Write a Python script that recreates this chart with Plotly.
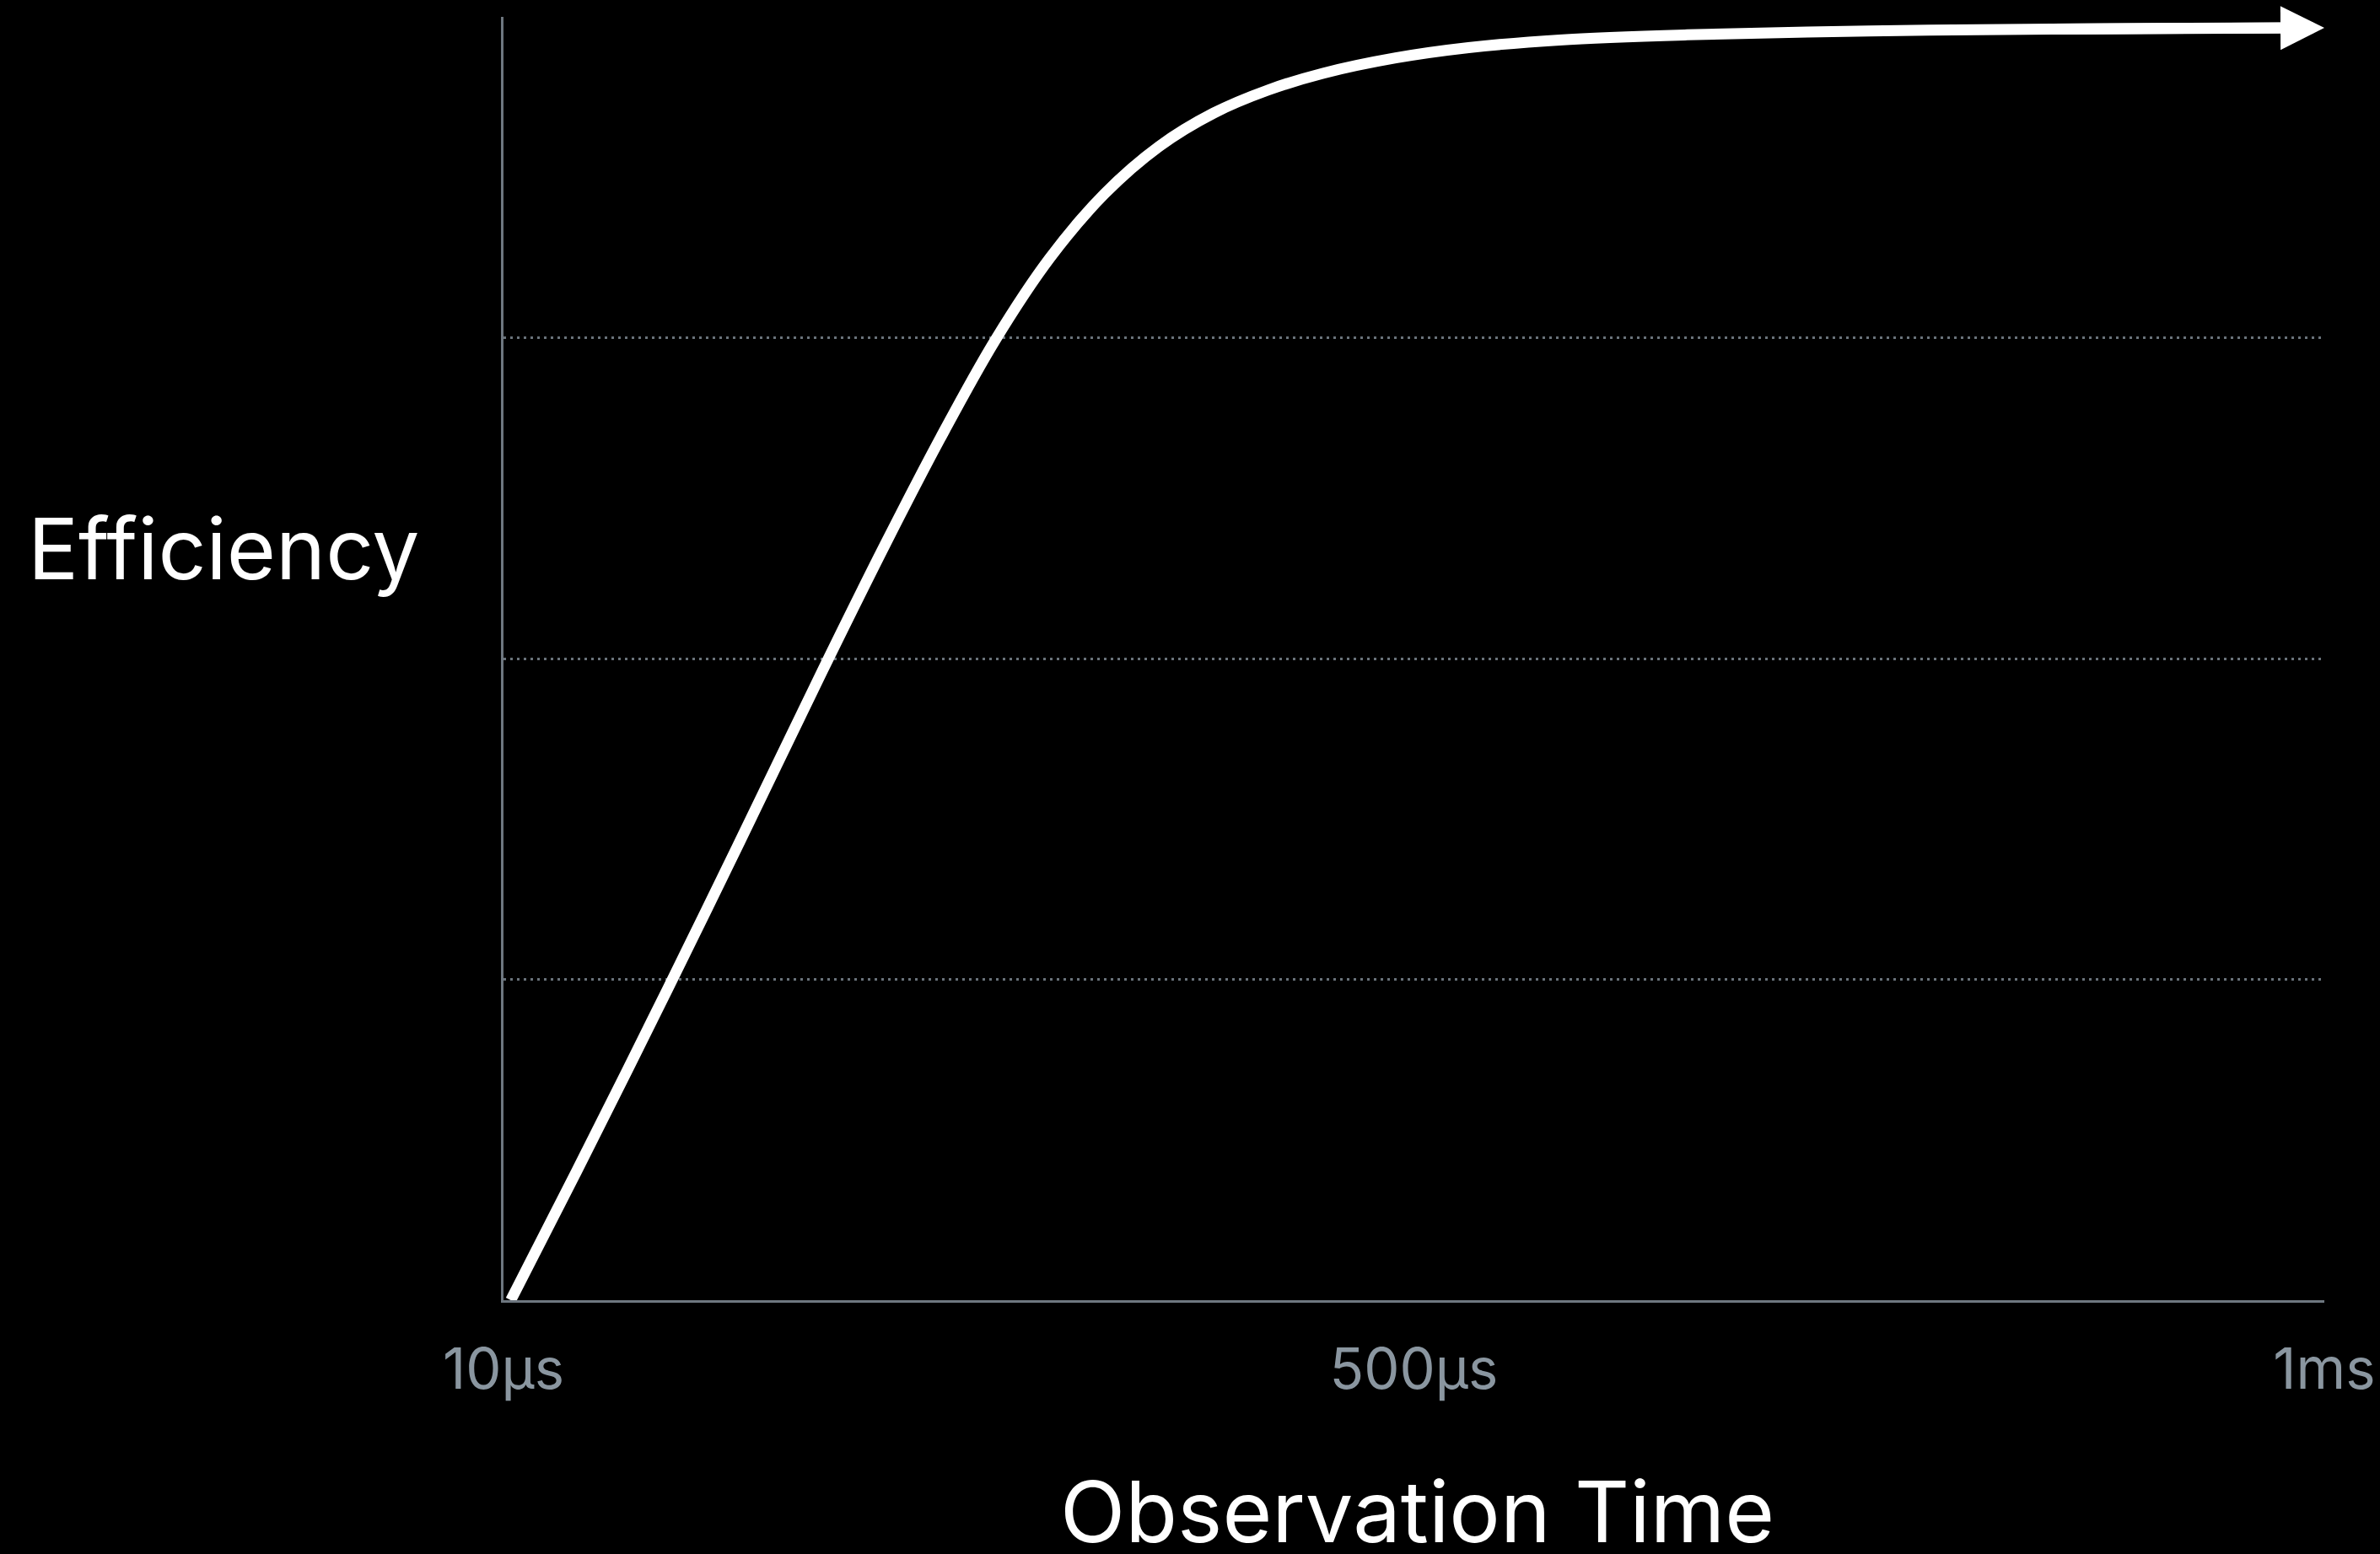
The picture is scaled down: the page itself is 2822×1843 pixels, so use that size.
import plotly.graph_objects as go

# Curve (x as fraction of the observation-time span, y as efficiency %)
curve_x = [0.004, 0.04, 0.09, 0.13, 0.175, 0.21, 0.24, 0.27, 0.30, 0.33,
           0.36, 0.39, 0.42, 0.45, 0.49, 0.53, 0.58, 0.65, 0.75, 0.85,
           0.977, 1.0]
curve_y = [0.0, 10.0, 24.2, 35.8, 49.0, 59.0, 67.2, 74.8, 81.2, 86.2,
           89.9, 92.5, 94.3, 95.6, 96.8, 97.6, 98.2, 98.6, 98.9, 99.05,
           99.15, 99.15]

x_tick_pos = [0, 0.5, 1]
x_tick_labels = ["10µs", "500µs", "1ms"]
y_grid_vals = [0, 25, 50, 75, 100]

FONT = "Inter, Roboto, 'Noto Sans', sans-serif"

fig = go.Figure()
fig.add_trace(go.Scatter(
    x=curve_x[:-1], y=curve_y[:-1], mode="lines",
    line=dict(color="white", width=13, shape="spline", smoothing=1.0),
    hoverinfo="skip", showlegend=False,
))

# arrow head at the end of the curve
fig.add_annotation(
    x=curve_x[-1], y=curve_y[-1], ax=curve_x[-3], ay=curve_y[-3],
    xref="x", yref="y", axref="x", ayref="y",
    text="", showarrow=True, arrowhead=2, arrowsize=0.8, arrowwidth=13,
    arrowcolor="white", standoff=0,
)

fig.add_annotation(
    x=(265 - 597) / 2159, xref="paper", y=0.586, yref="paper", text="Efficiency",
    showarrow=False, font=dict(family=FONT, size=100, color="white"),
    xanchor="center", yanchor="middle",
)

fig.add_annotation(
    x=0.502, xref="paper", y=-0.164, yref="paper", text="Observation Time",
    showarrow=False, font=dict(family=FONT, size=101, color="white"),
    xanchor="center", yanchor="middle",
)

fig.update_layout(
    width=2822, height=1843,
    margin=dict(l=597, r=66, t=20, b=301, autoexpand=False),
    paper_bgcolor="black", plot_bgcolor="black",
    showlegend=False,
)
fig.update_xaxes(
    range=[0, 1], tickvals=x_tick_pos, ticktext=x_tick_labels, automargin=False,
    showgrid=False, zeroline=False, showline=True, linecolor="#6e7780", linewidth=3,
    ticks="outside", ticklen=22, tickcolor="rgba(0,0,0,0)",
    tickfont=dict(family=FONT, size=67, color="#8a96a0"),
)
fig.update_yaxes(
    range=[0, 100], tickvals=y_grid_vals, showticklabels=False, automargin=False,
    showgrid=True, gridcolor="#6a737b", gridwidth=3, griddash="3px,5px",
    zeroline=False, showline=True, linecolor="#6e7780", linewidth=3, ticks="",
)

fig.write_html(
    "out.html",
    config={"displayModeBar": False},
    post_script="document.body.style.margin='0';document.body.style.background='black';",
)
